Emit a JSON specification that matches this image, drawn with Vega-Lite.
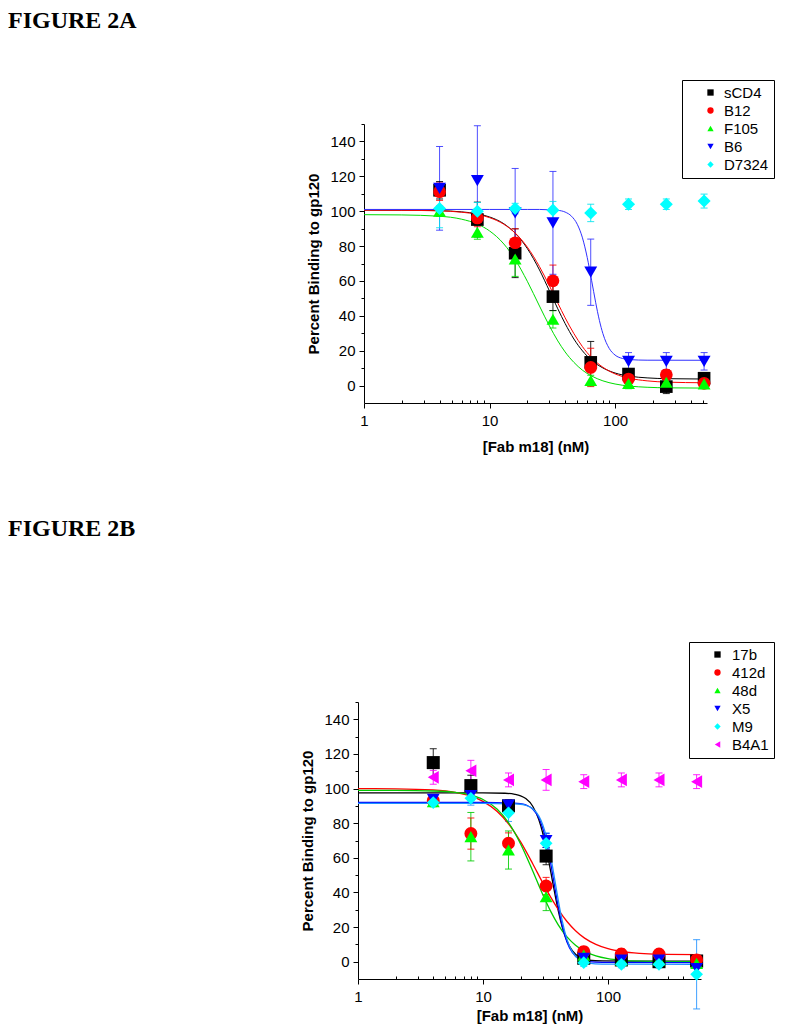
{
  "$schema": "https://vega.github.io/schema/vega-lite/v6.json",
  "padding": {"left": 8, "top": 8, "right": 5, "bottom": 5},
  "background": "#ffffff",
  "config": {
    "view": {"stroke": null},
    "axis": {"labelFont": "Liberation Sans", "titleFont": "Liberation Sans", "labelFontSize": 15, "titleFontSize": 15, "titleFontWeight": "bold", "labelColor": "#000000", "titleColor": "#000000", "domainColor": "#000000", "tickColor": "#000000", "grid": false, "domainWidth": 1, "tickWidth": 1}
  },
  "datasets": {
    "ptsA": [
      {"s": "sCD4", "x": 4, "y": 112, "lo": 107, "hi": 117},
      {"s": "sCD4", "x": 8, "y": 95.2, "lo": 85.2, "hi": 105.2},
      {"s": "sCD4", "x": 16, "y": 75.9, "lo": 61.9, "hi": 89.9},
      {"s": "sCD4", "x": 32, "y": 51, "lo": 43, "hi": 59},
      {"s": "sCD4", "x": 64, "y": 13.3, "lo": 1.3, "hi": 25.3},
      {"s": "sCD4", "x": 128, "y": 6.6, "lo": 3.6, "hi": 9.6},
      {"s": "sCD4", "x": 256, "y": -0.6, "lo": -4.6, "hi": 3.4},
      {"s": "sCD4", "x": 512, "y": 4.2, "lo": 2.2, "hi": 6.2},
      {"s": "B12", "x": 4, "y": 111.2, "lo": 106.2, "hi": 116.2},
      {"s": "B12", "x": 8, "y": 96.1, "lo": 91.1, "hi": 101.1},
      {"s": "B12", "x": 16, "y": 81.9, "lo": 73.9, "hi": 89.9},
      {"s": "B12", "x": 32, "y": 60.1, "lo": 51.1, "hi": 69.1},
      {"s": "B12", "x": 64, "y": 10.4, "lo": -0.6, "hi": 21.4},
      {"s": "B12", "x": 128, "y": 3.7, "lo": 0.7, "hi": 6.7},
      {"s": "B12", "x": 256, "y": 6.2, "lo": 3.2, "hi": 9.2},
      {"s": "B12", "x": 512, "y": 1.3, "lo": -0.7, "hi": 3.3},
      {"s": "F105", "x": 4, "y": 100, "lo": 97, "hi": 103},
      {"s": "F105", "x": 8, "y": 87.9, "lo": 83.9, "hi": 91.9},
      {"s": "F105", "x": 16, "y": 72.6, "lo": 62.6, "hi": 82.6},
      {"s": "F105", "x": 32, "y": 38, "lo": 33, "hi": 43},
      {"s": "F105", "x": 64, "y": 2.9, "lo": -0.1, "hi": 5.9},
      {"s": "F105", "x": 128, "y": 1.2, "lo": -1.8, "hi": 4.2},
      {"s": "F105", "x": 256, "y": 1.9, "lo": -2.1, "hi": 5.9},
      {"s": "F105", "x": 512, "y": 1, "lo": -1, "hi": 3},
      {"s": "B6", "x": 4, "y": 113.1, "lo": 89.1, "hi": 137.1},
      {"s": "B6", "x": 8, "y": 117.5, "lo": 86, "hi": 149},
      {"s": "B6", "x": 16, "y": 99, "lo": 73.5, "hi": 124.5},
      {"s": "B6", "x": 32, "y": 93.3, "lo": 63.8, "hi": 122.8},
      {"s": "B6", "x": 64, "y": 65, "lo": 46, "hi": 84},
      {"s": "B6", "x": 128, "y": 13.9, "lo": 8.9, "hi": 18.9},
      {"s": "B6", "x": 256, "y": 13.9, "lo": 8.9, "hi": 18.9},
      {"s": "B6", "x": 512, "y": 13.9, "lo": 8.9, "hi": 18.9},
      {"s": "D7324", "x": 4, "y": 101.5, "lo": 90.5, "hi": 112.5},
      {"s": "D7324", "x": 8, "y": 100, "lo": 95, "hi": 105},
      {"s": "D7324", "x": 16, "y": 101.5, "lo": 98.5, "hi": 104.5},
      {"s": "D7324", "x": 32, "y": 100.6, "lo": 95.6, "hi": 105.6},
      {"s": "D7324", "x": 64, "y": 99, "lo": 94, "hi": 104},
      {"s": "D7324", "x": 128, "y": 104, "lo": 101, "hi": 107},
      {"s": "D7324", "x": 256, "y": 104, "lo": 101, "hi": 107},
      {"s": "D7324", "x": 512, "y": 105.8, "lo": 101.8, "hi": 109.8}
    ],
    "fitA": [
      {"s": "sCD4", "x": 1, "y": 100.6}, {"s": "sCD4", "x": 2, "y": 100.55}, {"s": "sCD4", "x": 4, "y": 100.3}, {"s": "sCD4", "x": 6, "y": 99.6}, {"s": "sCD4", "x": 8, "y": 98.5}, {"s": "sCD4", "x": 10, "y": 96.7}, {"s": "sCD4", "x": 13, "y": 92.8}, {"s": "sCD4", "x": 16, "y": 87.4}, {"s": "sCD4", "x": 20, "y": 78.6}, {"s": "sCD4", "x": 25, "y": 66.3}, {"s": "sCD4", "x": 30, "y": 54.3}, {"s": "sCD4", "x": 35, "y": 44.0}, {"s": "sCD4", "x": 40, "y": 35.6}, {"s": "sCD4", "x": 47, "y": 26.7}, {"s": "sCD4", "x": 55, "y": 19.9}, {"s": "sCD4", "x": 65, "y": 14.5}, {"s": "sCD4", "x": 80, "y": 10.1}, {"s": "sCD4", "x": 100, "y": 7.2}, {"s": "sCD4", "x": 130, "y": 5.4}, {"s": "sCD4", "x": 180, "y": 4.4}, {"s": "sCD4", "x": 260, "y": 3.95}, {"s": "sCD4", "x": 512, "y": 3.75},
      {"s": "B12", "x": 1, "y": 100.6}, {"s": "B12", "x": 2, "y": 100.5}, {"s": "B12", "x": 4, "y": 100.2}, {"s": "B12", "x": 6, "y": 99.4}, {"s": "B12", "x": 8, "y": 98.2}, {"s": "B12", "x": 10, "y": 96.3}, {"s": "B12", "x": 13, "y": 92.5}, {"s": "B12", "x": 16, "y": 87.5}, {"s": "B12", "x": 20, "y": 79.4}, {"s": "B12", "x": 25, "y": 68.2}, {"s": "B12", "x": 30, "y": 57.2}, {"s": "B12", "x": 35, "y": 47.3}, {"s": "B12", "x": 40, "y": 38.9}, {"s": "B12", "x": 47, "y": 29.8}, {"s": "B12", "x": 55, "y": 22.3}, {"s": "B12", "x": 65, "y": 16.0}, {"s": "B12", "x": 80, "y": 10.5}, {"s": "B12", "x": 100, "y": 6.7}, {"s": "B12", "x": 130, "y": 4.2}, {"s": "B12", "x": 180, "y": 2.7}, {"s": "B12", "x": 260, "y": 1.96}, {"s": "B12", "x": 512, "y": 1.6},
      {"s": "F105", "x": 1, "y": 98}, {"s": "F105", "x": 2, "y": 97.85}, {"s": "F105", "x": 4, "y": 97.1}, {"s": "F105", "x": 6, "y": 95.4}, {"s": "F105", "x": 8, "y": 92.6}, {"s": "F105", "x": 10, "y": 88.7}, {"s": "F105", "x": 13, "y": 81.2}, {"s": "F105", "x": 16, "y": 72.3}, {"s": "F105", "x": 20, "y": 59.8}, {"s": "F105", "x": 25, "y": 45.6}, {"s": "F105", "x": 30, "y": 34.2}, {"s": "F105", "x": 35, "y": 25.6}, {"s": "F105", "x": 40, "y": 19.3}, {"s": "F105", "x": 47, "y": 13.3}, {"s": "F105", "x": 55, "y": 8.8}, {"s": "F105", "x": 65, "y": 5.5}, {"s": "F105", "x": 80, "y": 2.7}, {"s": "F105", "x": 100, "y": 0.9}, {"s": "F105", "x": 130, "y": -0.3}, {"s": "F105", "x": 180, "y": -0.97}, {"s": "F105", "x": 260, "y": -1.3}, {"s": "F105", "x": 512, "y": -1.45},
      {"s": "B6", "x": 1, "y": 101}, {"s": "B6", "x": 10, "y": 101}, {"s": "B6", "x": 20, "y": 101}, {"s": "B6", "x": 25, "y": 101}, {"s": "B6", "x": 30, "y": 100.8}, {"s": "B6", "x": 35, "y": 100.5}, {"s": "B6", "x": 40, "y": 99.5}, {"s": "B6", "x": 45, "y": 97.1}, {"s": "B6", "x": 50, "y": 92.5}, {"s": "B6", "x": 55, "y": 84.7}, {"s": "B6", "x": 60, "y": 73.5}, {"s": "B6", "x": 65, "y": 60.4}, {"s": "B6", "x": 70, "y": 47.8}, {"s": "B6", "x": 75, "y": 37.4}, {"s": "B6", "x": 80, "y": 29.8}, {"s": "B6", "x": 90, "y": 21.2}, {"s": "B6", "x": 100, "y": 17.5}, {"s": "B6", "x": 115, "y": 15.5}, {"s": "B6", "x": 130, "y": 14.9}, {"s": "B6", "x": 180, "y": 14.55}, {"s": "B6", "x": 512, "y": 14.5}
    ],
    "ptsB": [
      {"s": "17b", "x": 4, "y": 115, "lo": 107, "hi": 123},
      {"s": "17b", "x": 8, "y": 101.7, "lo": 95.7, "hi": 107.7},
      {"s": "17b", "x": 16, "y": 90, "lo": 87, "hi": 93},
      {"s": "17b", "x": 32, "y": 61, "lo": 56, "hi": 66},
      {"s": "17b", "x": 64, "y": 2, "lo": 0, "hi": 4},
      {"s": "17b", "x": 128, "y": 1, "lo": -1, "hi": 3},
      {"s": "17b", "x": 256, "y": 0, "lo": -2, "hi": 2},
      {"s": "17b", "x": 512, "y": 0.4, "lo": -2.6, "hi": 3.4},
      {"s": "412d", "x": 4, "y": 93, "lo": 90, "hi": 96},
      {"s": "412d", "x": 8, "y": 74, "lo": 65, "hi": 83},
      {"s": "412d", "x": 16, "y": 68.4, "lo": 62.4, "hi": 74.4},
      {"s": "412d", "x": 32, "y": 43.7, "lo": 38.7, "hi": 48.7},
      {"s": "412d", "x": 64, "y": 5.8, "lo": 2.8, "hi": 8.8},
      {"s": "412d", "x": 128, "y": 4.4, "lo": 1.4, "hi": 7.4},
      {"s": "412d", "x": 256, "y": 4.4, "lo": 2.4, "hi": 6.4},
      {"s": "412d", "x": 512, "y": 1, "lo": -1, "hi": 3},
      {"s": "48d", "x": 4, "y": 92.5, "lo": 89.5, "hi": 95.5},
      {"s": "48d", "x": 8, "y": 72.2, "lo": 58.2, "hi": 86.2},
      {"s": "48d", "x": 16, "y": 64.5, "lo": 53.5, "hi": 75.5},
      {"s": "48d", "x": 32, "y": 37.5, "lo": 29.5, "hi": 45.5},
      {"s": "48d", "x": 64, "y": 3.8, "lo": 1.8, "hi": 5.8},
      {"s": "48d", "x": 128, "y": 1, "lo": -1, "hi": 3},
      {"s": "48d", "x": 256, "y": 1, "lo": -1, "hi": 3},
      {"s": "48d", "x": 512, "y": -1, "lo": -3, "hi": 1},
      {"s": "X5", "x": 4, "y": 93.8, "lo": 91.8, "hi": 95.8},
      {"s": "X5", "x": 8, "y": 96, "lo": 93, "hi": 99},
      {"s": "X5", "x": 16, "y": 90.5, "lo": 87.5, "hi": 93.5},
      {"s": "X5", "x": 32, "y": 70, "lo": 66, "hi": 74},
      {"s": "X5", "x": 64, "y": 2, "lo": 0, "hi": 4},
      {"s": "X5", "x": 128, "y": 1, "lo": -1, "hi": 3},
      {"s": "X5", "x": 256, "y": 1, "lo": -1, "hi": 3},
      {"s": "X5", "x": 512, "y": -3.9, "lo": -7.9, "hi": 0.1},
      {"s": "M9", "x": 4, "y": 91.9, "lo": 89.9, "hi": 93.9},
      {"s": "M9", "x": 8, "y": 94.4, "lo": 90.4, "hi": 98.4},
      {"s": "M9", "x": 16, "y": 86, "lo": 81, "hi": 91},
      {"s": "M9", "x": 32, "y": 68.4, "lo": 62.4, "hi": 74.4},
      {"s": "M9", "x": 64, "y": -0.6, "lo": -2.6, "hi": 1.4},
      {"s": "M9", "x": 128, "y": -1.5, "lo": -3.5, "hi": 0.5},
      {"s": "M9", "x": 256, "y": -1.5, "lo": -3.5, "hi": 0.5},
      {"s": "M9", "x": 512, "y": -7.3, "lo": -27.3, "hi": 12.7},
      {"s": "B4A1", "x": 4, "y": 106.5, "lo": 102.5, "hi": 110.5},
      {"s": "B4A1", "x": 8, "y": 110.3, "lo": 104.3, "hi": 116.3},
      {"s": "B4A1", "x": 16, "y": 105, "lo": 101, "hi": 109},
      {"s": "B4A1", "x": 32, "y": 105, "lo": 99, "hi": 111},
      {"s": "B4A1", "x": 64, "y": 104, "lo": 100, "hi": 108},
      {"s": "B4A1", "x": 128, "y": 105, "lo": 101, "hi": 109},
      {"s": "B4A1", "x": 256, "y": 105, "lo": 101, "hi": 109},
      {"s": "B4A1", "x": 512, "y": 104, "lo": 100, "hi": 108}
    ],
    "fitB": [
      {"s": "17b", "x": 1, "y": 97.5}, {"s": "17b", "x": 10, "y": 97.5}, {"s": "17b", "x": 15, "y": 97.3}, {"s": "17b", "x": 18, "y": 96.7}, {"s": "17b", "x": 20, "y": 95.8}, {"s": "17b", "x": 22, "y": 94.2}, {"s": "17b", "x": 25, "y": 89.8}, {"s": "17b", "x": 28, "y": 82.0}, {"s": "17b", "x": 30, "y": 74.6}, {"s": "17b", "x": 32, "y": 65.7}, {"s": "17b", "x": 34, "y": 56.1}, {"s": "17b", "x": 36, "y": 46.4}, {"s": "17b", "x": 38, "y": 37.4}, {"s": "17b", "x": 40, "y": 29.5}, {"s": "17b", "x": 43, "y": 20.2}, {"s": "17b", "x": 47, "y": 12.0}, {"s": "17b", "x": 52, "y": 6.3}, {"s": "17b", "x": 60, "y": 2.4}, {"s": "17b", "x": 70, "y": 0.84}, {"s": "17b", "x": 90, "y": 0.44}, {"s": "17b", "x": 512, "y": 0.3},
      {"s": "412d", "x": 1, "y": 99.97}, {"s": "412d", "x": 2, "y": 99.86}, {"s": "412d", "x": 4, "y": 99.2}, {"s": "412d", "x": 6, "y": 97.8}, {"s": "412d", "x": 8, "y": 95.6}, {"s": "412d", "x": 10, "y": 92.6}, {"s": "412d", "x": 13, "y": 86.7}, {"s": "412d", "x": 16, "y": 79.6}, {"s": "412d", "x": 20, "y": 69.2}, {"s": "412d", "x": 25, "y": 56.6}, {"s": "412d", "x": 30, "y": 45.7}, {"s": "412d", "x": 35, "y": 37.0}, {"s": "412d", "x": 40, "y": 30.2}, {"s": "412d", "x": 47, "y": 23.2}, {"s": "412d", "x": 55, "y": 17.9}, {"s": "412d", "x": 65, "y": 13.6}, {"s": "412d", "x": 80, "y": 10.0}, {"s": "412d", "x": 100, "y": 7.5}, {"s": "412d", "x": 130, "y": 5.85}, {"s": "412d", "x": 180, "y": 4.83}, {"s": "412d", "x": 260, "y": 4.33}, {"s": "412d", "x": 512, "y": 4.07},
      {"s": "48d", "x": 1, "y": 99}, {"s": "48d", "x": 2, "y": 98.95}, {"s": "48d", "x": 4, "y": 98.6}, {"s": "48d", "x": 6, "y": 97.8}, {"s": "48d", "x": 8, "y": 96.2}, {"s": "48d", "x": 10, "y": 93.7}, {"s": "48d", "x": 13, "y": 88.0}, {"s": "48d", "x": 16, "y": 80.3}, {"s": "48d", "x": 20, "y": 68.0}, {"s": "48d", "x": 25, "y": 52.4}, {"s": "48d", "x": 30, "y": 39.0}, {"s": "48d", "x": 35, "y": 28.8}, {"s": "48d", "x": 40, "y": 21.3}, {"s": "48d", "x": 47, "y": 14.3}, {"s": "48d", "x": 55, "y": 9.5}, {"s": "48d", "x": 65, "y": 5.96}, {"s": "48d", "x": 80, "y": 3.29}, {"s": "48d", "x": 100, "y": 1.71}, {"s": "48d", "x": 130, "y": 0.79}, {"s": "48d", "x": 180, "y": 0.3}, {"s": "48d", "x": 260, "y": 0.1}, {"s": "48d", "x": 512, "y": 0.01},
      {"s": "X5", "x": 1, "y": 92}, {"s": "X5", "x": 10, "y": 92}, {"s": "X5", "x": 20, "y": 91.3}, {"s": "X5", "x": 22, "y": 90.6}, {"s": "X5", "x": 25, "y": 88.2}, {"s": "X5", "x": 28, "y": 83.0}, {"s": "X5", "x": 30, "y": 77.4}, {"s": "X5", "x": 32, "y": 70.0}, {"s": "X5", "x": 34, "y": 60.8}, {"s": "X5", "x": 36, "y": 50.8}, {"s": "X5", "x": 38, "y": 40.8}, {"s": "X5", "x": 40, "y": 31.8}, {"s": "X5", "x": 43, "y": 20.9}, {"s": "X5", "x": 47, "y": 11.4}, {"s": "X5", "x": 52, "y": 5.2}, {"s": "X5", "x": 60, "y": 1.4}, {"s": "X5", "x": 70, "y": 0.06}, {"s": "X5", "x": 90, "y": -0.4}, {"s": "X5", "x": 512, "y": -0.5},
      {"s": "M9", "x": 1, "y": 91.5}, {"s": "M9", "x": 10, "y": 91.5}, {"s": "M9", "x": 20, "y": 90.95}, {"s": "M9", "x": 22, "y": 90.3}, {"s": "M9", "x": 25, "y": 88.3}, {"s": "M9", "x": 28, "y": 84.1}, {"s": "M9", "x": 30, "y": 79.3}, {"s": "M9", "x": 32, "y": 72.7}, {"s": "M9", "x": 34, "y": 64.4}, {"s": "M9", "x": 36, "y": 54.9}, {"s": "M9", "x": 38, "y": 45.0}, {"s": "M9", "x": 40, "y": 35.6}, {"s": "M9", "x": 43, "y": 23.7}, {"s": "M9", "x": 47, "y": 12.9}, {"s": "M9", "x": 52, "y": 5.5}, {"s": "M9", "x": 60, "y": 0.85}, {"s": "M9", "x": 70, "y": -0.8}, {"s": "M9", "x": 90, "y": -1.35}, {"s": "M9", "x": 512, "y": -1.5}
    ]
  },
  "resolve": {"scale": {"color": "independent", "shape": "independent", "stroke": "independent", "size": "independent"}},
  "spacing": 62,
  "vconcat": [
    {
      "hconcat": [
        {"width": 1, "height": 1, "data": {"values": []}, "mark": "point"},
        {
          "width": 343,
          "height": 279,
          "title": {"text": "FIGURE 2A", "anchor": "start", "frame": "group", "dx": -356, "offset": 47, "font": "Liberation Serif", "fontSize": 24, "fontWeight": "bold", "color": "#000000"},
          "resolve": {"axis": {"x": "independent", "y": "independent"}},
          "layer": [
            {
              "data": {"name": "ptsA"},
              "mark": {"type": "rule", "strokeWidth": 1, "opacity": 0.85},
              "encoding": {
                "x": {"field": "x", "type": "quantitative", "scale": {"type": "log", "domain": [1, 540], "nice": false}, "axis": {"orient": "bottom", "title": null, "values": [2, 3, 4, 5, 6, 7, 8, 9, 20, 30, 40, 50, 60, 70, 80, 90, 200, 300, 400, 500], "labels": false, "domain": false, "tickSize": -3}},
                "y": {"field": "lo", "type": "quantitative", "scale": {"domain": [-10, 150], "nice": false, "zero": false}, "axis": {"orient": "left", "title": null, "values": [10, 30, 50, 70, 90, 110, 130, 150], "labels": false, "domain": false, "tickSize": 3}},
                "y2": {"field": "hi"},
                "stroke": {"field": "s", "type": "nominal", "scale": {"domain": ["D7324", "B6", "F105", "B12", "sCD4"], "range": ["#00e5ee", "#3030ff", "#00dd00", "#ff0000", "#000000"]}, "legend": null}
              }
            },
            {
              "data": {"name": "ptsA"},
              "mark": {"type": "point", "shape": "stroke", "filled": false, "size": 49, "strokeWidth": 1, "opacity": 0.85},
              "encoding": {
                "x": {"field": "x", "type": "quantitative", "axis": null},
                "y": {"field": "hi", "type": "quantitative", "axis": null},
                "stroke": {"field": "s", "type": "nominal", "legend": null}
              }
            },
            {
              "data": {"name": "ptsA"},
              "mark": {"type": "point", "shape": "stroke", "filled": false, "size": 49, "strokeWidth": 1, "opacity": 0.85},
              "encoding": {
                "x": {"field": "x", "type": "quantitative", "axis": null},
                "y": {"field": "lo", "type": "quantitative", "axis": null},
                "stroke": {"field": "s", "type": "nominal", "legend": null}
              }
            },
            {
              "data": {"name": "fitA"},
              "mark": {"type": "line", "strokeWidth": 1, "interpolate": "monotone"},
              "encoding": {
                "x": {"field": "x", "type": "quantitative", "axis": null},
                "y": {"field": "y", "type": "quantitative", "axis": null},
                "stroke": {"field": "s", "type": "nominal", "legend": null}
              }
            },
            {
              "data": {"name": "ptsA"},
              "mark": {"type": "point", "filled": true, "opacity": 1, "strokeWidth": 0},
              "encoding": {
                "x": {"field": "x", "type": "quantitative", "axis": {"orient": "bottom", "title": "[Fab m18] (nM)", "values": [1, 10, 100], "format": "d", "tickSize": 5, "labelPadding": 5, "titlePadding": 11, "labelFlush": false, "labelOverlap": false}},
                "y": {"field": "y", "type": "quantitative", "axis": {"orient": "left", "title": "Percent Binding to gp120", "values": [0, 20, 40, 60, 80, 100, 120, 140], "format": "d", "tickSize": 5, "labelPadding": 4, "titlePadding": 8}},
                "color": {"field": "s", "type": "nominal", "scale": {"domain": ["sCD4", "B12", "F105", "B6", "D7324"], "range": ["#000000", "#ff0000", "#00ff00", "#0000ff", "#00ffff"]}, "legend": {"title": null, "orient": "none", "legendX": 318, "legendY": -44, "padding": 5, "rowPadding": 2, "strokeColor": "#000000", "fillColor": "#ffffff", "labelFont": "Liberation Sans", "labelFontSize": 15, "labelColor": "#000000", "symbolSize": 40, "symbolStrokeWidth": 0, "symbolOffset": 16, "labelOffset": 6}},
                "shape": {"field": "s", "type": "nominal", "scale": {"domain": ["sCD4", "B12", "F105", "B6", "D7324"], "range": ["square", "circle", "triangle-up", "triangle-down", "diamond"]}, "legend": {"title": null, "orient": "none", "legendX": 318, "legendY": -44, "padding": 5, "rowPadding": 2, "strokeColor": "#000000", "fillColor": "#ffffff", "labelFont": "Liberation Sans", "labelFontSize": 15, "labelColor": "#000000", "symbolSize": 40, "symbolStrokeWidth": 0, "symbolOffset": 16, "labelOffset": 6}},
                "size": {"field": "s", "type": "nominal", "scale": {"domain": ["D7324", "B6", "F105", "B12", "sCD4"], "range": [170, 160, 160, 121, 105]}, "legend": null}
              }
            }
          ]
        }
      ],
      "spacing": 5,
      "bounds": "flush",
      "resolve": {"scale": {"color": "independent", "shape": "independent", "stroke": "independent", "size": "independent"}}
    },
    {
      "width": 343,
      "height": 277,
      "title": {"text": "FIGURE 2B", "anchor": "start", "frame": "group", "dx": -350, "offset": 101, "font": "Liberation Serif", "fontSize": 24, "fontWeight": "bold", "color": "#000000"},
      "resolve": {"axis": {"x": "independent", "y": "independent"}},
      "layer": [
        {
          "data": {"name": "ptsB"},
          "mark": {"type": "rule", "strokeWidth": 1, "opacity": 0.85},
          "encoding": {
            "x": {"field": "x", "type": "quantitative", "scale": {"type": "log", "domain": [1, 555], "nice": false}, "axis": {"orient": "bottom", "title": null, "values": [2, 3, 4, 5, 6, 7, 8, 9, 20, 30, 40, 50, 60, 70, 80, 90, 200, 300, 400, 500], "labels": false, "domain": false, "tickSize": -3}},
            "y": {"field": "lo", "type": "quantitative", "scale": {"domain": [-10, 150], "nice": false, "zero": false}, "axis": {"orient": "left", "title": null, "values": [10, 30, 50, 70, 90, 110, 130, 150], "labels": false, "domain": false, "tickSize": 3}},
            "y2": {"field": "hi"},
            "stroke": {"field": "s", "type": "nominal", "scale": {"domain": ["B4A1", "M9", "X5", "48d", "412d", "17b"], "range": ["#ff00ff", "#1e90ff", "#0000ff", "#00cc00", "#ff0000", "#000000"]}, "legend": null}
          }
        },
        {
          "data": {"name": "ptsB"},
          "mark": {"type": "point", "shape": "stroke", "filled": false, "size": 49, "strokeWidth": 1, "opacity": 0.85},
          "encoding": {
            "x": {"field": "x", "type": "quantitative", "axis": null},
            "y": {"field": "hi", "type": "quantitative", "axis": null},
            "stroke": {"field": "s", "type": "nominal", "legend": null}
          }
        },
        {
          "data": {"name": "ptsB"},
          "mark": {"type": "point", "shape": "stroke", "filled": false, "size": 49, "strokeWidth": 1, "opacity": 0.85},
          "encoding": {
            "x": {"field": "x", "type": "quantitative", "axis": null},
            "y": {"field": "lo", "type": "quantitative", "axis": null},
            "stroke": {"field": "s", "type": "nominal", "legend": null}
          }
        },
        {
          "data": {"name": "fitB"},
          "mark": {"type": "line", "strokeWidth": 1.3, "interpolate": "monotone"},
          "encoding": {
            "x": {"field": "x", "type": "quantitative", "axis": null},
            "y": {"field": "y", "type": "quantitative", "axis": null},
            "stroke": {"field": "s", "type": "nominal", "legend": null}
          }
        },
        {
          "data": {"name": "ptsB"},
          "mark": {"type": "point", "filled": true, "opacity": 1, "strokeWidth": 0},
          "encoding": {
            "x": {"field": "x", "type": "quantitative", "axis": {"orient": "bottom", "title": "[Fab m18] (nM)", "values": [1, 10, 100], "format": "d", "tickSize": 5, "labelPadding": 5, "titlePadding": 4, "labelFlush": false, "labelOverlap": false}},
            "y": {"field": "y", "type": "quantitative", "axis": {"orient": "left", "title": "Percent Binding to gp120", "values": [0, 20, 40, 60, 80, 100, 120, 140], "format": "d", "tickSize": 5, "labelPadding": 4, "titlePadding": 8}},
            "color": {"field": "s", "type": "nominal", "scale": {"domain": ["17b", "412d", "48d", "X5", "M9", "B4A1"], "range": ["#000000", "#ff0000", "#00ff00", "#0000ff", "#00ffff", "#ff00ff"]}, "legend": {"title": null, "orient": "none", "legendX": 331, "legendY": -60, "padding": 5, "rowPadding": 2, "strokeColor": "#000000", "fillColor": "#ffffff", "labelFont": "Liberation Sans", "labelFontSize": 15, "labelColor": "#000000", "symbolSize": 40, "symbolStrokeWidth": 0, "symbolOffset": 16, "labelOffset": 7}},
            "shape": {"field": "s", "type": "nominal", "scale": {"domain": ["17b", "412d", "48d", "X5", "M9", "B4A1"], "range": ["square", "circle", "triangle-up", "triangle-down", "diamond", "triangle-left"]}, "legend": {"title": null, "orient": "none", "legendX": 331, "legendY": -60, "padding": 5, "rowPadding": 2, "strokeColor": "#000000", "fillColor": "#ffffff", "labelFont": "Liberation Sans", "labelFontSize": 15, "labelColor": "#000000", "symbolSize": 40, "symbolStrokeWidth": 0, "symbolOffset": 16, "labelOffset": 7}},
            "size": {"field": "s", "type": "nominal", "scale": {"domain": ["B4A1", "M9", "X5", "48d", "412d", "17b"], "range": [160, 170, 160, 160, 121, 105]}, "legend": null}
          }
        }
      ]
    }
  ]
}
